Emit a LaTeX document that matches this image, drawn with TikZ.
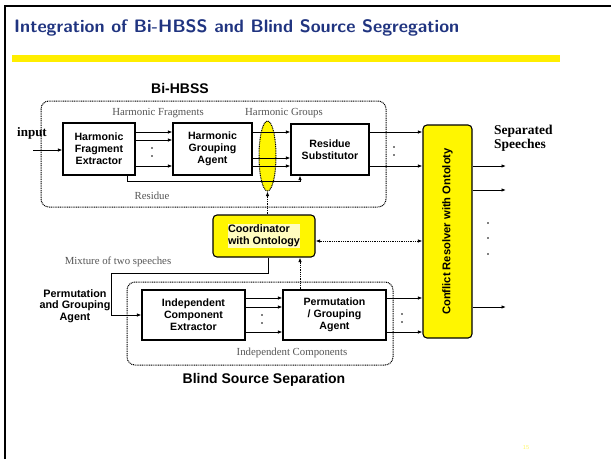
\documentclass[tikz,border=0pt]{standalone}
\usepackage{fontspec}
\usepackage{xcolor}
\usepackage{tikz}
\usetikzlibrary{arrows.meta,shapes.geometric}
\newfontfamily\arialf{Liberation Sans}
\newfontfamily\timesf{Liberation Serif}
\definecolor{navytitle}{RGB}{32,52,128}
\definecolor{baryellow}{RGB}{255,238,0}
\definecolor{boxyellow}{RGB}{255,246,0}
\definecolor{notegray}{RGB}{85,85,85}

\begin{document}
\begin{tikzpicture}[x=1pt,y=-1pt,
   blk/.style={draw,line width=1.1pt,minimum width=#1,minimum height=50,inner sep=0pt,align=center,
     font=\arialf\bfseries\fontsize{10.6}{11.8}\selectfont},
   ybox/.style={blk=#1,fill=boxyellow,rounded corners=4pt},
   grp/.style={line width=1pt,dash pattern=on 1pt off 0.8pt,rounded corners=8pt},
   arr/.style={line width=0.9pt,-{Latex[length=4.5pt,width=3.5pt]}},
   darr/.style={arr,dash pattern=on 1pt off 0.8pt},
   note/.style={text=notegray,font=\timesf\fontsize{10.8}{12}\selectfont,inner sep=0pt},
   head/.style={font=\arialf\bfseries\fontsize{14}{16}\selectfont,inner sep=0pt}]
\newcommand{\dts}[2]{\fill (#1,#2) circle (0.8) (#1,#2+8) circle (0.8);}
\useasboundingbox (0,0) rectangle (611,459);
% slide frame, title and bar
\draw[line width=2pt] (5,459) -- (5,6) -- (611,6);
\node[anchor=base west,inner sep=0pt,text=navytitle,font=\sffamily\bfseries\fontsize{18}{22}\selectfont] (title) at (14,32)
  {Integration of Bi-HBSS and Blind Source Segregation};
\fill[baryellow] (12,55) rectangle (560,62);
% Bi-HBSS group
\node[head] (hbss) at (180,88) {Bi-HBSS};
\draw[grp] (41,101) rectangle (386,207);
\node[note] (hfrag) at (158,113) {Harmonic Fragments};
\node[note] (hgrp) at (284,113) {Harmonic Groups};
\node[inner sep=0pt,font=\timesf\bfseries\fontsize{13}{14}\selectfont] (inp) at (32,133) {input};
\node[blk=72,minimum height=52] (hfe) at (99,149) {Harmonic\\Fragment\\Extractor};
\node[blk=79,minimum height=52] (hga) at (212.5,149) {Harmonic\\Grouping\\Agent};
\node[blk=78,minimum height=51] (rs) at (330,149.5) {Residue\\Substitutor};
\node[ellipse,draw,fill=boxyellow,line width=1pt,dash pattern=on 1pt off 0.8pt,minimum width=17,minimum height=70,inner sep=0pt] (ell) at (267.5,156) {};
\coordinate (in) at (33,150);
\coordinate (res) at (300,181);
\draw[arr] (in) -- (hfe.west |- in);
\foreach \yy in {132,140,166} \draw[arr] (hfe.east |- 0,\yy) -- (hga.west |- 0,\yy);
\foreach \yy in {132,158,166} \draw[arr] (hga.east |- 0,\yy) -- (rs.west |- 0,\yy);
\draw[arr] (hfe.south -| 127,0) |- (res) -- (rs.south -| res);
\node[note] (resl) at (152,196) {Residue};
\dts{152}{148}
% conflict resolver and outputs
\node[ybox=49,minimum height=213] (cr) at (447.5,231.5) {};
\node[rotate=90,font=\arialf\bfseries\fontsize{11.2}{12}\selectfont,inner sep=0pt] (crl) at (cr) {Conflict Resolver with Ontoloty};
\foreach \yy in {132,166} \draw[arr] (rs.east |- 0,\yy) -- (cr.west |- 0,\yy);
\dts{394}{147}
\coordinate (out) at (506,0);
\foreach \yy in {166,190,307} \draw[arr] (cr.east |- 0,\yy) -- (out |- 0,\yy);
\foreach \yy in {223,238,254} \fill (488,\yy) circle (0.8);
\node[anchor=north west,align=left,inner sep=0pt,font=\timesf\bfseries\fontsize{13.5}{14}\selectfont] (sep) at (494,125) {Separated\\Speeches};
% coordinator
\node[ybox=102,minimum height=42] (coord) at (264,236) {};
\node[fill=yellow!25,inner sep=0.5pt,align=left,font=\arialf\bfseries\fontsize{10.8}{12}\selectfont] (coordl) at (coord) {Coordinator\\with Ontology};
\draw[darr] (coord.north -| ell) -- (ell.south);
\draw[darr,{Latex[length=4.5pt,width=3.5pt]}-{Latex[length=4.5pt,width=3.5pt]}] (coord.east |- 0,241) -- (cr.west |- 0,241);
% blind source separation group
\draw[grp] (127,282) rectangle (393,365);
\node[blk=103] (ice) at (193.5,315) {Independent\\Component\\Extractor};
\node[blk=103] (pga) at (334.5,315) {Permutation\\/ Grouping\\Agent};
\coordinate (mix) at (111,273);
\draw[arr] (coord.south -| 268,0) |- (mix) |- (ice.west);
\node[note] (mixl) at (118,262) {Mixture of two speeches};
\node[align=center,inner sep=0pt,font=\arialf\bfseries\fontsize{10.8}{11.6}\selectfont] (pgl) at (75,306) {Permutation\\and Grouping\\Agent};
\foreach \yy in {298,307,332} \draw[arr] (ice.east |- 0,\yy) -- (pga.west |- 0,\yy);
\dts{262}{315}
\foreach \yy in {298,332} \draw[arr] (pga.east |- 0,\yy) -- (cr.west |- 0,\yy);
\dts{402}{314}
\draw[darr] (pga.north -| 300,0) -- (coord.south -| 300,0);
\node[note] (icl) at (292,353) {Independent Components};
\node[head] (bss) at (264,380) {Blind Source Separation};
% page number
\node[text=yellow!60,font=\sffamily\fontsize{6}{7}\selectfont] (pg) at (526,448) {15};
\end{tikzpicture}
\end{document}
